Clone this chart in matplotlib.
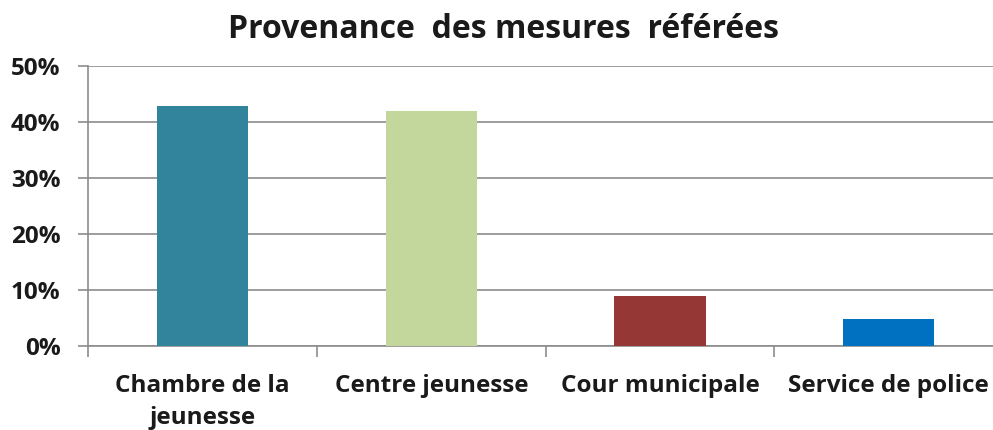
import matplotlib.pyplot as plt
import numpy as np

plt.rcParams['font.family'] = ['Open Sans', 'DejaVu Sans']

categories = ['Chambre de la\njeunesse', 'Centre jeunesse', 'Cour municipale', 'Service de police']
valeurs = [42.8, 41.9, 9.0, 4.8]
couleurs = ['#31849B', '#C3D69B', '#953735', '#0070C0']
yticks = [0, 10, 20, 30, 40, 50]

fig = plt.figure(figsize=(9.93, 4.30), dpi=100)
ax = fig.add_axes([88.3 / 993, 84 / 430, 914.7 / 993, 280 / 430])

x = np.arange(len(categories))
ax.bar(x, valeurs, width=0.4, color=couleurs, zorder=3)

ax.set_xlim(-0.5, len(categories) - 0.5)
ax.set_ylim(0, 50)
ax.set_yticks(yticks)
ax.set_yticklabels([str(v) + '%' for v in yticks], fontsize=17.5, fontweight='bold', color='#1a1a1a')
ax.yaxis.grid(True, color='#8c8c8c', lw=1.2, zorder=0)

ax.set_xticks(np.arange(len(categories) + 1) - 0.5)
ax.set_xticklabels([])
ax.set_xticks(x, minor=True)
ax.set_xticklabels(categories, minor=True, fontsize=17.5, fontweight='bold', color='#1a1a1a',
                   linespacing=1.45, va='top')
ax.tick_params(axis='x', which='minor', length=0, pad=20)
ax.tick_params(axis='x', which='major', length=8, width=1.2, color='#8c8c8c')
ax.tick_params(axis='y', length=7, width=1.2, color='#8c8c8c', pad=13)

for s in ['top', 'right']:
    ax.spines[s].set_visible(False)
for s in ['left', 'bottom']:
    ax.spines[s].set_color('#8c8c8c')
    ax.spines[s].set_linewidth(1.2)

fig.text(504 / 993, 1 - 30 / 430, 'Provenance  des mesures  référées', ha='center', va='center',
         fontsize=23, fontweight='bold', color='#1a1a1a')

fig.savefig('out.png', dpi=100)
